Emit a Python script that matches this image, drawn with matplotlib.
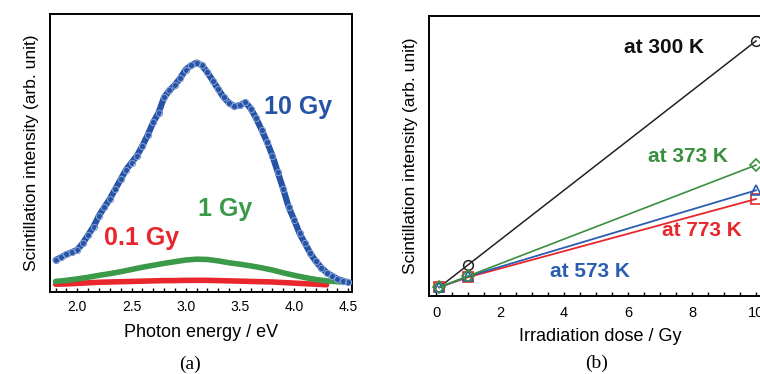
import numpy as np
import matplotlib.pyplot as plt
from matplotlib.ticker import MultipleLocator

plt.rcParams['font.family'] = ['Liberation Sans', 'DejaVu Sans']

# (a) spectra
energy_10 = [1.80, 1.85, 1.90, 1.95, 2.00, 2.05, 2.10, 2.15, 2.20, 2.25,
             2.30, 2.35, 2.40, 2.45, 2.50, 2.55, 2.60, 2.65, 2.70, 2.75,
             2.80, 2.85, 2.90, 2.95, 3.00, 3.05, 3.10, 3.15, 3.20, 3.25,
             3.30, 3.35, 3.40, 3.45, 3.50, 3.55, 3.60, 3.65, 3.70, 3.75,
             3.80, 3.85, 3.90, 3.95, 4.00, 4.05, 4.10, 4.15, 4.20, 4.25,
             4.30, 4.35, 4.40, 4.45, 4.50]
int_10 = [0.115, 0.125, 0.135, 0.143, 0.152, 0.175, 0.205, 0.235, 0.275, 0.305,
          0.335, 0.370, 0.405, 0.440, 0.465, 0.490, 0.525, 0.565, 0.610, 0.645,
          0.700, 0.725, 0.745, 0.770, 0.800, 0.815, 0.825, 0.815, 0.790, 0.760,
          0.730, 0.700, 0.680, 0.668, 0.672, 0.682, 0.660, 0.625, 0.583, 0.540,
          0.490, 0.430, 0.370, 0.305, 0.260, 0.211, 0.175, 0.139, 0.110, 0.088,
          0.070, 0.058, 0.047, 0.040, 0.035]

energy_1 = [1.8, 1.9, 2.0, 2.1, 2.2, 2.3, 2.4, 2.5, 2.6, 2.7, 2.8, 2.9, 3.0, 3.1,
            3.2, 3.3, 3.4, 3.5, 3.6, 3.7, 3.8, 3.9, 4.0, 4.1, 4.2, 4.3, 4.4, 4.5]
int_1 = [0.038, 0.042, 0.047, 0.053, 0.060, 0.066, 0.073, 0.081, 0.089, 0.096,
         0.103, 0.109, 0.115, 0.118, 0.117, 0.112, 0.105, 0.100, 0.094, 0.087,
         0.079, 0.069, 0.060, 0.052, 0.045, 0.040, 0.037, 0.035]

energy_01 = [1.8, 1.9, 2.0, 2.1, 2.2, 2.3, 2.4, 2.5, 2.6, 2.7, 2.8, 2.9, 3.0,
             3.1, 3.2, 3.3, 3.4, 3.5, 3.6, 3.7, 3.8, 3.9, 4.0, 4.1, 4.2, 4.3]
int_01 = [0.028, 0.029, 0.031, 0.033, 0.035, 0.036, 0.037, 0.038, 0.039, 0.040,
          0.041, 0.041, 0.042, 0.042, 0.042, 0.041, 0.040, 0.039, 0.038, 0.037,
          0.036, 0.034, 0.032, 0.030, 0.028, 0.026]

# (b) dose dependence
dose = [0.1, 1, 10]
int_300K = [0.031, 0.111, 0.910]
int_373K = [0.031, 0.071, 0.467]
int_573K = [0.031, 0.070, 0.377]
int_773K = [0.031, 0.067, 0.346]

BLUE = '#2653a6'
GREEN = '#3a9a48'
RED = '#e8262b'

fig = plt.figure(figsize=(7.6, 3.74), dpi=100)

# ---- panel (a)
ax1 = fig.add_axes([50/760, 1 - 292/374, 302/760, 278/374])
ax1.plot(energy_01, int_01, color=RED, lw=4.0, solid_capstyle='round', zorder=2)
ax1.plot(energy_1, int_1, color=GREEN, lw=4.0, solid_capstyle='round', zorder=3)
ax1.plot(energy_10, int_10, color=BLUE, lw=4.5, solid_capstyle='round', zorder=4)
ax1.plot(energy_10, int_10, 'o', ms=4.5, mfc='none', mec='#7d9bd2', mew=0.8, zorder=5)

ax1.set_xlim(1.748, 4.534)
ax1.set_ylim(0, 1)
ax1.xaxis.set_major_locator(MultipleLocator(0.5))
ax1.xaxis.set_minor_locator(MultipleLocator(0.1))
ax1.set_yticks([])
ax1.tick_params(axis='x', which='both', direction='in', length=3, width=1, labelsize=10, pad=6)
ax1.set_xlabel('Photon energy / eV', fontsize=13, labelpad=7)
ax1.set_ylabel('Scintillation intensity (arb. unit)', fontsize=12.5, labelpad=8)
for s in ax1.spines.values():
    s.set_linewidth(1.4)

ax1.text(4.04, 0.665, '10 Gy', color=BLUE, fontsize=18, fontweight='bold', ha='center', va='center')
ax1.text(3.36, 0.30, '1 Gy', color=GREEN, fontsize=18, fontweight='bold', ha='center', va='center')
ax1.text(2.59, 0.194, '0.1 Gy', color=RED, fontsize=18, fontweight='bold', ha='center', va='center')

fig.text(190/760, 1 - 364/374, '(a)', fontsize=14, family='Liberation Serif', ha='center', va='center')

# ---- panel (b)
ax2 = fig.add_axes([429/760, 1 - 296/374, 343/760, 280.3/374])
ax2.plot(dose, int_300K, '-o', color='#222222', lw=1.1, ms=7, mfc='none', mew=1.1, zorder=3)
ax2.plot(dose, int_773K, '-s', color=RED, lw=1.3, ms=7, mfc='none', mew=1.2, zorder=4)
ax2.plot(dose, int_573K, '-^', color='#2a5db0', lw=1.3, ms=7, mfc='none', mew=1.2, zorder=5)
ax2.plot(dose, int_373K, '-D', color='#3a8f3e', lw=1.2, ms=6, mfc='none', mew=1.2, zorder=6)

ax2.set_xlim(-0.22, 10.5)
ax2.set_ylim(0, 1)
ax2.xaxis.set_major_locator(MultipleLocator(2))
ax2.xaxis.set_minor_locator(MultipleLocator(0.5))
ax2.set_yticks([])
ax2.tick_params(axis='x', which='both', direction='in', length=3, width=1, labelsize=10.5, pad=7)
ax2.set_xlabel('Irradiation dose / Gy', fontsize=13, labelpad=6)
ax2.set_ylabel('Scintillation intensity (arb. unit)', fontsize=12.5, labelpad=8)
for s in ax2.spines.values():
    s.set_linewidth(1.4)

ax2.text(7.12, 0.886, 'at 300 K', color='#111111', fontsize=15, fontweight='bold', ha='center', va='center')
ax2.text(7.86, 0.499, 'at 373 K', color='#3a8f3e', fontsize=15, fontweight='bold', ha='center', va='center')
ax2.text(8.3, 0.232, 'at 773 K', color=RED, fontsize=15, fontweight='bold', ha='center', va='center')
ax2.text(4.81, 0.089, 'at 573 K', color='#2a5db0', fontsize=15, fontweight='bold', ha='center', va='center')

fig.text(597/760, 1 - 363/374, '(b)', fontsize=14, family='Liberation Serif', ha='center', va='center')

fig.savefig('out.png', dpi=100)
